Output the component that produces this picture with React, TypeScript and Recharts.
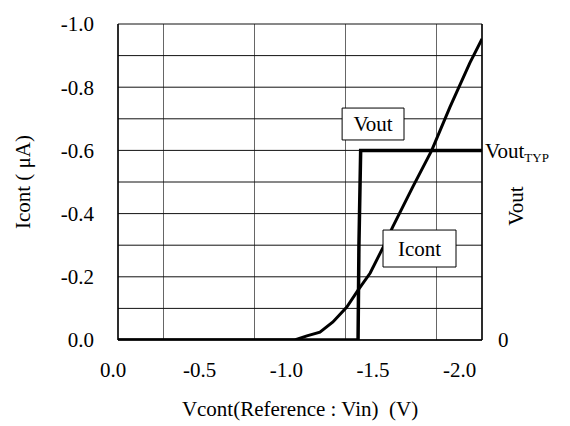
import { CartesianGrid, Line, LineChart, ReferenceArea, XAxis, YAxis } from "recharts";

const FONT = '"Liberation Serif", "Times New Roman", serif';

// x axis (Vcont, V) - drawn right to left, 0 .. -2.1
const xLabelTicks = [0, -0.5, -1.0, -1.5, -2.0];
const xGridValues = [0, -0.2625, -0.525, -0.7875, -1.05, -1.3125, -1.575, -1.8375, -2.1];

// left y axis (Icont, uA)
const yTicks = [0, -0.2, -0.4, -0.6, -0.8, -1.0];
const yGridValues = [0, -0.1, -0.2, -0.3, -0.4, -0.5, -0.6, -0.7, -0.8, -0.9, -1.0];

// right y axis (Vout)
const rightTicks = [0, -0.6];
const rightTickLabels = ["0", "Vout"];

// Icont curve
const icontX = [0, -1.02, -1.09, -1.165, -1.24, -1.32, -1.385, -1.455, -1.53, -1.585, -1.7, -1.81, -1.915, -2.03, -2.1];
const icontY = [0, 0, -0.013, -0.025, -0.057, -0.104, -0.158, -0.212, -0.294, -0.358, -0.484, -0.6, -0.737, -0.877, -0.953];

// Vout step (Vout_TYP level sits on the -0.6 line)
const voutX = [0, -1.385, -1.39, -1.4, -2.1];
const voutY = [0, 0, -0.3, -0.6, -0.6];

const icontData = icontX.map((x, i) => ({ x, y: icontY[i] }));
const voutData = voutX.map((x, i) => ({ x, y: voutY[i] }));

const textStyle = { fontFamily: FONT, fontSize: 21, fill: "#000" };

const XTick = (props: any) => {
  const { x, y, payload } = props;
  return (
    <text x={x - 5} y={y} dy="0.71em" textAnchor="middle" style={textStyle}>
      {Number(payload.value).toFixed(1)}
    </text>
  );
};

const YTick = (props: any) => {
  const { x, y, payload } = props;
  return (
    <text x={x} y={y} dy="0.355em" textAnchor="end" style={textStyle}>
      {Number(payload.value).toFixed(1)}
    </text>
  );
};

const RightTick = (props: any) => {
  const { x, y, payload } = props;
  if (payload.value === 0) {
    return (
      <text x={x + 16} y={y} dy="0.355em" style={textStyle}>
        {rightTickLabels[0]}
      </text>
    );
  }
  return (
    <text x={x + 3} y={y} dy="0.355em" style={textStyle}>
      {rightTickLabels[1]}
      <tspan style={{ fontSize: 13 }} dy={4}>TYP</tspan>
    </text>
  );
};

const boxLabel = (text: string) => (props: any) => {
  const vb = props.viewBox || {};
  return (
    <text x={vb.x + vb.width / 2} y={vb.y + vb.height / 2} dy="0.355em" textAnchor="middle" style={textStyle}>
      {text}
    </text>
  );
};

export default function App() {
  return (
    <div style={{ position: "absolute", left: 0, top: 0, background: "#fff", fontFamily: FONT }}>
      <LineChart width={570} height={426} margin={{ top: 24, right: 0, bottom: 0, left: 0 }}>
        <CartesianGrid horizontal={false} verticalValues={xGridValues} stroke="#666" strokeWidth={1} />
        <CartesianGrid vertical={false} horizontalValues={yGridValues} stroke="#111" strokeWidth={1} />
        <XAxis
          type="number"
          dataKey="x"
          domain={[-2.1, 0]}
          reversed
          allowDataOverflow
          ticks={xLabelTicks}
          tickSize={0}
          tickMargin={22}
          height={86}
          axisLine={{ stroke: "#000", strokeWidth: 1.5 }}
          tick={<XTick />}
          label={{
            content: () => (
              <text x={300} y={416} textAnchor="middle" style={textStyle}>
                {"Vcont(Reference : Vin)\u00a0\u00a0(V)"}
              </text>
            ),
          }}
        />
        <YAxis
          type="number"
          dataKey="y"
          domain={[-1, 0]}
          reversed
          allowDataOverflow
          ticks={yTicks}
          tickSize={0}
          tickMargin={24}
          width={118}
          axisLine={{ stroke: "#000", strokeWidth: 1.5 }}
          tick={<YTick />}
          label={{
            content: () => (
              <text x={30} y={182} transform="rotate(-90 30 182)" textAnchor="middle" style={textStyle}>
                Icont ( μA)
              </text>
            ),
          }}
        />
        <YAxis
          yAxisId="right"
          orientation="right"
          type="number"
          dataKey="y"
          domain={[-1, 0]}
          reversed
          allowDataOverflow
          ticks={rightTicks}
          tickSize={0}
          tickMargin={0}
          width={88}
          axisLine={{ stroke: "#000", strokeWidth: 1.5 }}
          tick={<RightTick />}
          label={{
            content: () => (
              <text x={523} y={206} transform="rotate(-90 523 206)" textAnchor="middle" style={textStyle}>
                Vout
              </text>
            ),
          }}
        />
        <Line
          yAxisId="right"
          data={voutData}
          dataKey="y"
          type="linear"
          stroke="#000"
          strokeWidth={3.5}
          strokeLinejoin="miter"
          dot={false}
          isAnimationActive={false}
        />
        <Line
          data={icontData}
          dataKey="y"
          type="linear"
          stroke="#000"
          strokeWidth={3}
          dot={false}
          isAnimationActive={false}
        />
        <ReferenceArea
          x1={-1.293}
          x2={-1.65}
          y1={-0.633}
          y2={-0.734}
          fill="#fff"
          fillOpacity={1}
          stroke="#000"
          strokeWidth={1}
          zIndex={1000}
          label={{ content: boxLabel("Vout") }}
        />
        <ReferenceArea
          x1={-1.529}
          x2={-1.95}
          y1={-0.231}
          y2={-0.348}
          fill="#fff"
          fillOpacity={1}
          stroke="#000"
          strokeWidth={1}
          zIndex={1000}
          label={{ content: boxLabel("Icont") }}
        />
      </LineChart>
    </div>
  );
}
